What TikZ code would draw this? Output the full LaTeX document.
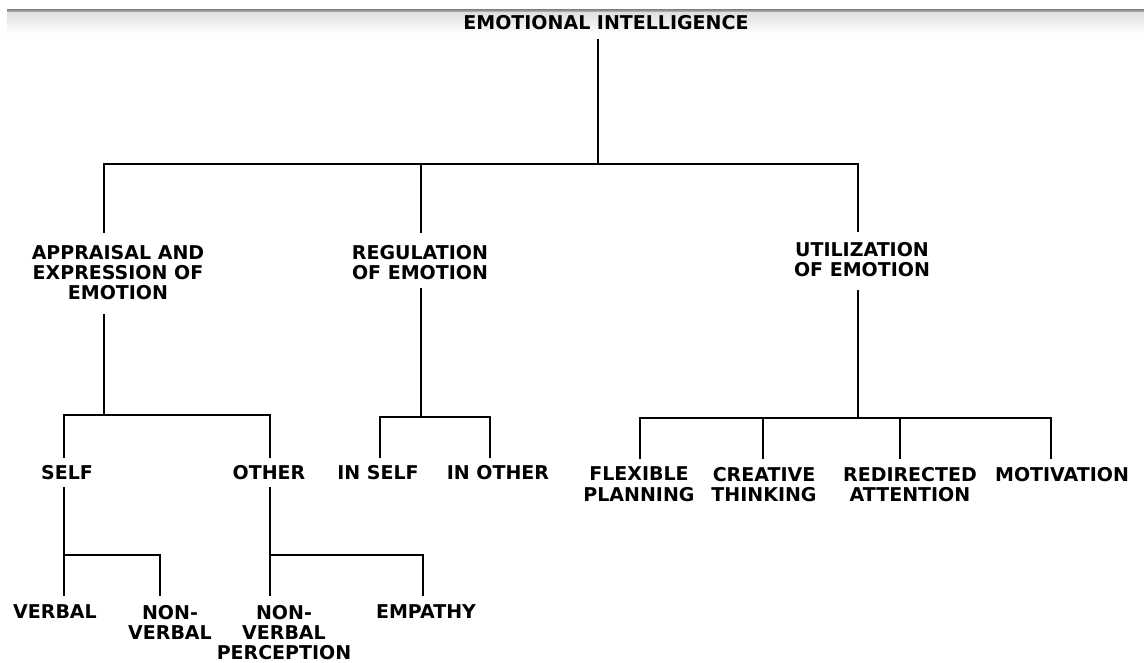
\documentclass[tikz,border=0pt]{standalone}
\usepackage{fontspec}
\newfontfamily\lblfont{DejaVu Sans}
\begin{document}
\begin{tikzpicture}[x=1pt,y=-1pt,
  lbl/.style={font=\lblfont\bfseries\fontsize{19}{20.2}\selectfont, align=center, inner sep=0pt, outer sep=0pt, anchor=north},
  conn/.style={line width=2.8pt, line cap=rect, line join=miter, black}]
\useasboundingbox (0,0) rectangle (1144,663);
\fill[white] (0,0) rectangle (1144,663);
\shade[top color=black!42, bottom color=black!16] (7,10) rectangle (1144,13);
\shade[top color=black!12, bottom color=white] (7,13) rectangle (1144,34);

% labels
\node[lbl] (title) at (606,15) {EMOTIONAL INTELLIGENCE};
\node[lbl] (app) at (118,245) {APPRAISAL AND\\EXPRESSION OF\\EMOTION};
\node[lbl] (reg) at (420,245) {REGULATION\\OF EMOTION};
\node[lbl] (util) at (862,242) {UTILIZATION\\OF EMOTION};
\node[lbl] (self) at (67,465) {SELF};
\node[lbl] (other) at (269,465) {OTHER};
\node[lbl] (inself) at (378,465) {IN SELF};
\node[lbl] (inother) at (498,465) {IN OTHER};
\node[lbl] (flex) at (639,467) {FLEXIBLE\\PLANNING};
\node[lbl] (creat) at (764,467) {CREATIVE\\THINKING};
\node[lbl] (redir) at (910,467) {REDIRECTED\\ATTENTION};
\node[lbl] (motiv) at (1062,467) {MOTIVATION};
\node[lbl] (verbal) at (55,605) {VERBAL};
\node[lbl] (nv) at (170,605) {NON-\\VERBAL};
\node[lbl] (nvp) at (284,605) {NON-\\VERBAL\\PERCEPTION};
\node[lbl] (emp) at (426,605) {EMPATHY};

% junction coordinates
\coordinate (jt) at (598,164);
\coordinate (da) at (104,164);
\coordinate (dr) at (421,164);
\coordinate (du) at (858,164);
\coordinate (ja) at (104,415);
\coordinate (dS) at (64,415);
\coordinate (dO) at (270,415);
\coordinate (jr) at (421,417);
\coordinate (dIS) at (380,417);
\coordinate (dIO) at (490,417);
\coordinate (ju) at (858,418);
\coordinate (dF) at (640,418);
\coordinate (dC) at (763,418);
\coordinate (dR) at (900,418);
\coordinate (dM) at (1051,418);
\coordinate (js) at (64,555);
\coordinate (dNV) at (160,555);
\coordinate (jo) at (270,555);
\coordinate (dE) at (423,555);

% level 1
\draw[conn, shorten <=11pt] (title.south -| jt) -- (jt);
\draw[conn, shorten <=13pt, shorten >=11pt] (app.north -| da) -- (da) -- (du) -- (util.north -| du);
\draw[conn, shorten >=13pt] (dr) -- (reg.north -| dr);

% appraisal
\draw[conn, shorten <=16pt] (app.south -| ja) -- (ja);
\draw[conn, shorten <=8pt, shorten >=8pt] (self.north -| dS) -- (dS) -- (dO) -- (other.north -| dO);

% regulation
\draw[conn, shorten <=10pt] (reg.south -| jr) -- (jr);
\draw[conn, shorten <=8pt, shorten >=8pt] (inself.north -| dIS) -- (dIS) -- (dIO) -- (inother.north -| dIO);

% utilization
\draw[conn, shorten <=15pt] (util.south -| ju) -- (ju);
\draw[conn, shorten <=9pt, shorten >=9pt] (flex.north -| dF) -- (dF) -- (dM) -- (motiv.north -| dM);
\draw[conn, shorten >=9pt] (dC) -- (creat.north -| dC);
\draw[conn, shorten >=9pt] (dR) -- (redir.north -| dR);

% self
\draw[conn, shorten <=9pt, shorten >=10pt] (self.south -| js) -- (verbal.north -| js);
\draw[conn, shorten >=10pt] (js) -| (nv.north -| dNV);

% other
\draw[conn, shorten <=9pt, shorten >=10pt] (other.south -| jo) -- (nvp.north -| jo);
\draw[conn, shorten >=10pt] (jo) -| (emp.north -| dE);
\end{tikzpicture}
\end{document}
